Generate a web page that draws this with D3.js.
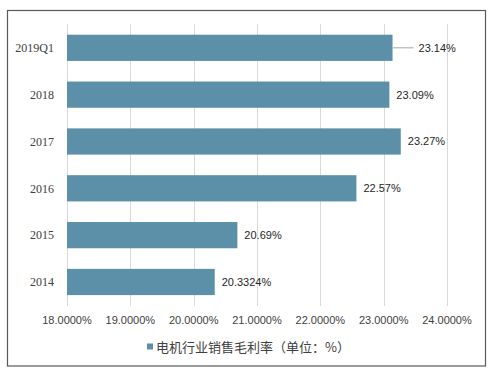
<!DOCTYPE html>
<html>
<head>
<meta charset="utf-8">
<script src="https://cdn.jsdelivr.net/npm/d3@7"></script>
<style>
  body { margin: 0; background: #fff; }
</style>
</head>
<body>
<svg id="chart" width="495" height="373"></svg>
<script>
// Data
const categories = ["2019Q1", "2018", "2017", "2016", "2015", "2014"];
const values = [23.14, 23.09, 23.27, 22.57, 20.69, 20.3324];
const valueLabels = ["23.14%", "23.09%", "23.27%", "22.57%", "20.69%", "20.3324%"];
const ticks = [18, 19, 20, 21, 22, 23, 24];
const seriesName = "电机行业销售毛利率（单位：%）";

const svg = d3.select("#chart");

// Outer frame
svg.append("rect")
    .attr("x", 7.5).attr("y", 10.5)
    .attr("width", 478).attr("height", 355.5)
    .attr("fill", "#fff")
    .attr("stroke", "#595959")
    .attr("stroke-width", 1.2);

const x = d3.scaleLinear()
    .domain([18, 24])
    .range([67, 447]);

const y = d3.scaleBand()
    .domain(categories)
    .range([24.4, 305.4])
    .paddingInner(0.44)
    .paddingOuter(0.22);

// Gridlines
svg.append("g")
    .selectAll("line")
    .data(ticks)
    .join("line")
    .attr("x1", d => Math.round(x(d)) + 0.5)
    .attr("x2", d => Math.round(x(d)) + 0.5)
    .attr("y1", 24)
    .attr("y2", 306)
    .attr("stroke", "#d9d9d9")
    .attr("stroke-width", 1);

// x-axis tick labels
svg.append("g")
    .selectAll("text")
    .data(ticks)
    .join("text")
    .attr("x", d => x(d))
    .attr("y", 324)
    .attr("text-anchor", "middle")
    .attr("font-family", "Liberation Sans, Arial, sans-serif")
    .attr("font-size", 11)
    .attr("fill", "#404040")
    .text(d => d3.format(".4f")(d) + "%");

// Bars
svg.append("g")
    .selectAll("rect")
    .data(categories)
    .join("rect")
    .attr("x", x(18))
    .attr("y", d => y(d))
    .attr("width", (d, i) => x(values[i]) - x(18))
    .attr("height", y.bandwidth())
    .attr("fill", "#5b90a8");

// Category labels
svg.append("g")
    .selectAll("text")
    .data(categories)
    .join("text")
    .attr("x", 54)
    .attr("y", d => y(d) + y.bandwidth() / 2)
    .attr("dy", "0.35em")
    .attr("text-anchor", "end")
    .attr("font-family", "Liberation Serif, DejaVu Serif, serif")
    .attr("font-size", 12)
    .attr("fill", "#404040")
    .text(d => d);

// Leader line for first label
svg.append("line")
    .attr("x1", x(values[0]))
    .attr("x2", x(values[0]) + 21)
    .attr("y1", y(categories[0]) + y.bandwidth() / 2)
    .attr("y2", y(categories[0]) + y.bandwidth() / 2)
    .attr("stroke", "#a6a6a6")
    .attr("stroke-width", 1);

// Value labels
svg.append("g")
    .selectAll("text")
    .data(categories)
    .join("text")
    .attr("x", (d, i) => x(values[i]) + (i === 0 ? 26 : 7))
    .attr("y", d => y(d) + y.bandwidth() / 2)
    .attr("dy", "0.35em")
    .attr("font-family", "Liberation Sans, Arial, sans-serif")
    .attr("font-size", 11)
    .attr("fill", "#262626")
    .text((d, i) => valueLabels[i]);

// Legend
const legend = svg.append("g");
legend.append("rect")
    .attr("x", 147).attr("y", 343.5)
    .attr("width", 6).attr("height", 6)
    .attr("fill", "#5b90a8");
legend.append("text")
    .attr("x", 156)
    .attr("y", 347)
    .attr("dy", "0.35em")
    .attr("font-family", "Noto Sans CJK SC, sans-serif")
    .attr("font-size", 13)
    .attr("fill", "#404040")
    .text(seriesName);
</script>
</body>
</html>
